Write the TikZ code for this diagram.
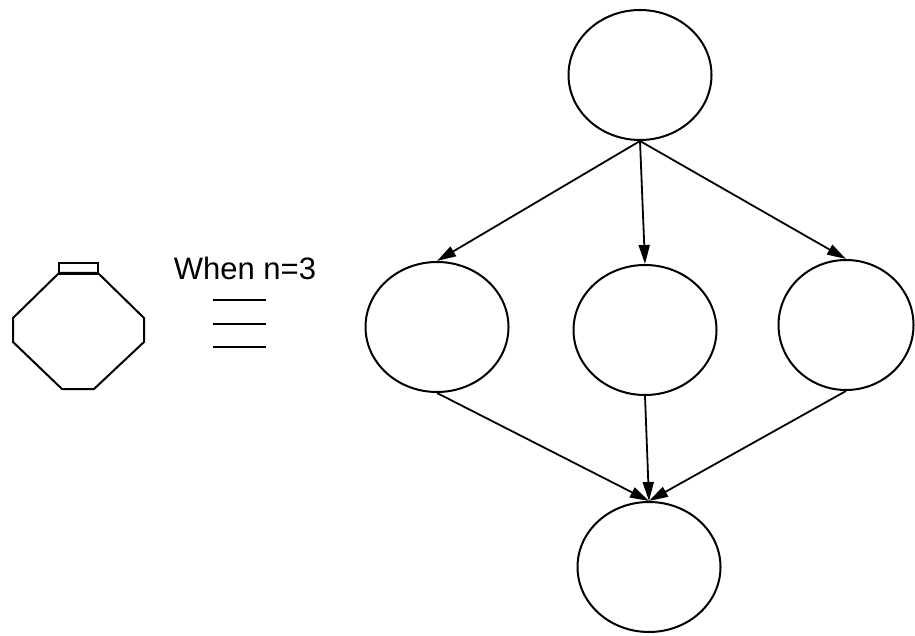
\documentclass[tikz,border=0pt]{standalone}
\usepackage{fontspec}
\setmainfont{Liberation Sans}
\usetikzlibrary{shapes.geometric,arrows.meta}
\begin{document}
\begin{tikzpicture}[x=1pt,y=-1pt,
  task/.style={draw,ellipse,line width=2pt,inner sep=0pt,
    minimum width=143pt,minimum height=130pt},
  edge/.style={line width=1.8pt,-{Triangle[length=19pt,width=11pt]}},
  outline/.style={line width=2pt,line join=miter}]
\useasboundingbox (0,0) rectangle (915,636);

% graph of the expanded block
\node[task] (top) at (640,75) {};
\node[task] (l)   at (437,327) {};
\node[task] (m)   at (645,330) {};
\node[task, minimum width=135pt] (r) at (846,325) {};
\node[task] (bot) at (649,567) {};

\draw[edge] (top.south) -- (l.north);
\draw[edge] (top.south) -- (m.north);
\draw[edge] (top.south) -- (r.north);
\draw[edge] (l.south) -- (bot.north);
\draw[edge] (m.south) -- (bot.north);
\draw[edge] (r.south) -- (bot.north);

% compact symbol on the left
\draw[outline] (59,273) -- (13,318) -- (13,342) -- (62,389) -- (94,389)
  -- (144,342) -- (144,318) -- (98,273) -- cycle;
\draw[outline] (59,263) rectangle (98,274);

% label and equivalence sign
\node[font=\fontsize{31}{31}\selectfont] (lbl) at (245,268) {When n=3};
\coordinate (e1a) at (213,300); \coordinate (e1b) at (266,300);
\coordinate (e2a) at (213,324); \coordinate (e2b) at (266,324);
\coordinate (e3a) at (213,347); \coordinate (e3b) at (266,347);
\draw[line width=2.6pt] (e1a) -- (e1b);
\draw[line width=2.6pt] (e2a) -- (e2b);
\draw[line width=2.6pt] (e3a) -- (e3b);
\end{tikzpicture}
\end{document}
